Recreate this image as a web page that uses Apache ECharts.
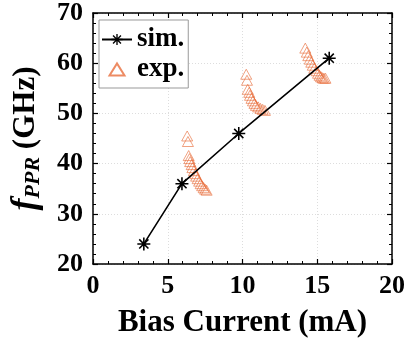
<!DOCTYPE html>
<html><head><meta charset="utf-8">
<script src="https://cdn.jsdelivr.net/npm/echarts@6/dist/echarts.min.js"></script>
<style>html,body{margin:0;padding:0;background:#fff}#c{width:408px;height:345px}</style>
</head><body><div id="c"></div>
<script>
var simCurrent = [3.4, 5.95, 9.75, 15.8];
var simFreq = [24.0, 36.0, 46.0, 61.0];

var expCurrent = [
  6.30, 6.35, 6.40, 6.45, 6.50, 6.60, 6.65, 6.75, 6.85, 6.90, 7.00, 7.10, 7.20, 7.30, 7.40, 7.50, 7.60,
  10.25, 10.30, 10.35, 10.45, 10.50, 10.60, 10.70, 10.80, 10.90, 11.05, 11.20, 11.35, 11.50,
  14.20, 14.30, 14.40, 14.50, 14.60, 14.70, 14.80, 14.95, 15.05, 15.15, 15.25, 15.35, 15.45, 15.55
];
var expFreq = [
  45.5, 44.4, 41.6, 41.0, 40.4, 39.8, 39.2, 38.6, 38.0, 37.5, 37.0, 36.5, 36.0, 35.6, 35.2, 34.9, 34.7,
  57.8, 56.6, 54.8, 54.2, 53.6, 53.0, 52.5, 52.0, 51.6, 51.3, 51.0, 50.8, 50.6,
  63.0, 62.2, 61.5, 60.8, 60.2, 59.6, 59.0, 58.5, 58.0, 57.6, 57.3, 57.1, 57.0, 57.0
];

var xTicks = [0, 5, 10, 15, 20];
var yTicks = [20, 30, 40, 50, 60, 70];

var FONT = '"Liberation Serif", "Times New Roman", serif';
var star = 'path://M-1.2,-10 L1.2,-10 L1.2,10 L-1.2,10 Z M-10,-1.2 L10,-1.2 L10,1.2 L-10,1.2 Z ' +
  'M-6.22,-7.92 L7.92,6.22 L6.22,7.92 L-7.92,-6.22 Z ' +
  'M6.22,-7.92 L7.92,-6.22 L-6.22,7.92 L-7.92,6.22 Z';
var triIcon = 'path://M-15,-7 M15,7 M-7.5,6 L0,-6 L7.5,6 Z';

var chart = echarts.init(document.getElementById('c'), null, {renderer: 'canvas'});
var axisCommon = {
  axisLine: {show: true, onZero: false, lineStyle: {color: '#000', width: 1.5}},
  axisTick: {show: true, inside: true, length: 5, lineStyle: {color: '#000', width: 1.2}},
  minorTick: {show: true, splitNumber: 5, length: 3, lineStyle: {color: '#000', width: 1}}
};
function ax(extra) { return Object.assign({}, JSON.parse(JSON.stringify(axisCommon)), extra); }

chart.setOption({
  animation: false,
  backgroundColor: '#fff',
  grid: {left: 93, right: 14, top: 13, bottom: 81},
  legend: {
    orient: 'vertical', left: 99, top: 20,
    padding: [6, 4, 5, 2], itemGap: 3,
    itemWidth: 30, itemHeight: 14,
    backgroundColor: '#fff', borderColor: '#999', borderWidth: 1,
    textStyle: {fontFamily: FONT, fontWeight: 'bold', fontSize: 27, color: '#000'},
    data: [{name: 'sim.'}, {name: 'exp.', icon: triIcon}]
  },
  xAxis: [
    ax({type: 'value', min: xTicks[0], max: xTicks[xTicks.length - 1], interval: 5, position: 'bottom',
      name: 'Bias Current (mA)', nameLocation: 'middle', nameGap: 43,
      nameTextStyle: {fontFamily: FONT, fontWeight: 'bold', fontSize: 31, color: '#000'},
      axisLabel: {fontFamily: FONT, fontWeight: 'bold', fontSize: 26, color: '#000', margin: 9},
      splitLine: {show: true, lineStyle: {color: '#ddd', type: [1, 2], width: 1}}}),
    ax({type: 'value', min: xTicks[0], max: xTicks[xTicks.length - 1], interval: 5, position: 'top',
      axisLabel: {show: false}, splitLine: {show: false}})
  ],
  yAxis: [
    ax({type: 'value', min: yTicks[0], max: yTicks[yTicks.length - 1], interval: 10, position: 'left',
      name: '{i|f}{s|PPR} {g|(GHz)}', nameLocation: 'middle', nameGap: 49,
      nameTextStyle: {fontFamily: FONT, fontWeight: 'bold', fontSize: 31, color: '#000',
        rich: {
          i: {fontFamily: FONT, fontStyle: 'italic', fontWeight: 'bold', fontSize: 36, color: '#000'},
          s: {fontFamily: FONT, fontStyle: 'italic', fontWeight: 'bold', fontSize: 22, color: '#000', padding: [14, 0, 0, 0]},
          g: {fontFamily: FONT, fontWeight: 'bold', fontSize: 31, color: '#000'}
        }},
      axisLabel: {fontFamily: FONT, fontWeight: 'bold', fontSize: 26, color: '#000', margin: 10},
      splitLine: {show: true, lineStyle: {color: '#ddd', type: [1, 2], width: 1}}}),
    ax({type: 'value', min: yTicks[0], max: yTicks[yTicks.length - 1], interval: 10, position: 'right',
      axisLabel: {show: false}, splitLine: {show: false}})
  ],
  series: [
    {
      name: 'exp.', type: 'scatter', symbol: 'triangle', symbolSize: [11, 10],
      itemStyle: {color: 'rgba(255,255,255,0)', borderColor: '#E86E3C', borderWidth: 0.8},
      data: expCurrent.map(function (x, i) { return [x, expFreq[i]]; }),
      z: 2
    },
    {
      name: 'sim.', type: 'line', symbol: star, symbolSize: 13,
      lineStyle: {color: '#000', width: 1.6},
      itemStyle: {color: '#000'},
      data: simCurrent.map(function (x, i) { return [x, simFreq[i]]; }),
      z: 3
    }
  ]
});
</script></body></html>
